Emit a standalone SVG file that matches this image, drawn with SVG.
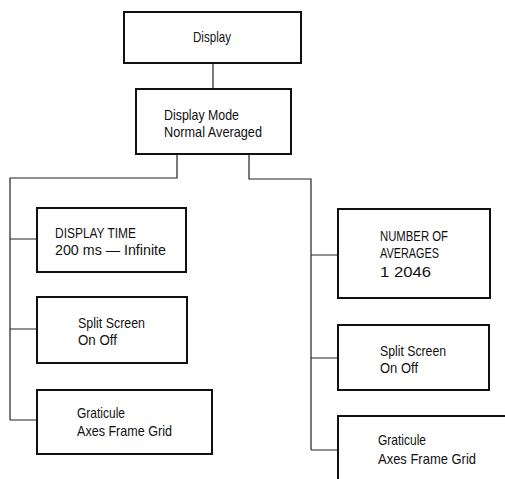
<svg xmlns="http://www.w3.org/2000/svg" width="505" height="479" viewBox="0 0 505 479">
<style>
.box{fill:#fff;stroke:#111;stroke-width:2}
.ln{fill:none;stroke:#222;stroke-width:1.2}
text{font-family:"Liberation Sans",Arial,sans-serif;font-size:15px;fill:#111}
</style>
<rect width="505" height="479" fill="#fff"/>
<g id="connectors">
<path class="ln" d="M213 63V89"/>
<path class="ln" d="M177 154V178H10V420"/>
<path class="ln" d="M10 239H37M10 329H37M10 420H37"/>
<path class="ln" d="M249 154V179H311V450"/>
<path class="ln" d="M311 255H338M311 358H338M311 450H338"/>
</g>
<g id="display">
<rect class="box" x="124" y="12" width="177" height="51"/>
<text x="193" y="42" textLength="38" lengthAdjust="spacingAndGlyphs">Display</text>
</g>
<g id="display-mode">
<rect class="box" x="136" y="89" width="155" height="65"/>
<text x="164" y="120" textLength="75" lengthAdjust="spacingAndGlyphs">Display Mode</text>
<text x="164" y="137" textLength="98" lengthAdjust="spacingAndGlyphs">Normal  Averaged</text>
</g>
<g id="display-time">
<rect class="box" x="37" y="208" width="149" height="64"/>
<text x="55" y="238" textLength="81" lengthAdjust="spacingAndGlyphs">DISPLAY TIME</text>
<text x="55" y="255" textLength="111" lengthAdjust="spacingAndGlyphs">200 ms — Infinite</text>
</g>
<g id="split-left">
<rect class="box" x="37" y="297" width="150" height="66"/>
<text x="78" y="328" textLength="67" lengthAdjust="spacingAndGlyphs">Split Screen</text>
<text x="78" y="345" textLength="39" lengthAdjust="spacingAndGlyphs">On  Off</text>
</g>
<g id="graticule-left">
<rect class="box" x="37" y="390" width="175" height="64"/>
<text x="77" y="418" textLength="48" lengthAdjust="spacingAndGlyphs">Graticule</text>
<text x="77" y="436" textLength="95" lengthAdjust="spacingAndGlyphs">Axes  Frame  Grid</text>
</g>
<g id="number-averages">
<rect class="box" x="338" y="209" width="152" height="89"/>
<text x="380" y="241" textLength="68" lengthAdjust="spacingAndGlyphs">NUMBER OF</text>
<text x="380" y="258" textLength="59" lengthAdjust="spacingAndGlyphs">AVERAGES</text>
<text x="380" y="277" textLength="51" lengthAdjust="spacingAndGlyphs">1    2046</text>
</g>
<g id="split-right">
<rect class="box" x="338" y="325" width="151" height="65"/>
<text x="380" y="356" textLength="66" lengthAdjust="spacingAndGlyphs">Split Screen</text>
<text x="380" y="373" textLength="38" lengthAdjust="spacingAndGlyphs">On  Off</text>
</g>
<g id="graticule-right">
<rect class="box" x="338" y="416" width="180" height="80"/>
<text x="378" y="445" textLength="48" lengthAdjust="spacingAndGlyphs">Graticule</text>
<text x="378" y="464" textLength="98" lengthAdjust="spacingAndGlyphs">Axes  Frame  Grid</text>
</g>
</svg>
